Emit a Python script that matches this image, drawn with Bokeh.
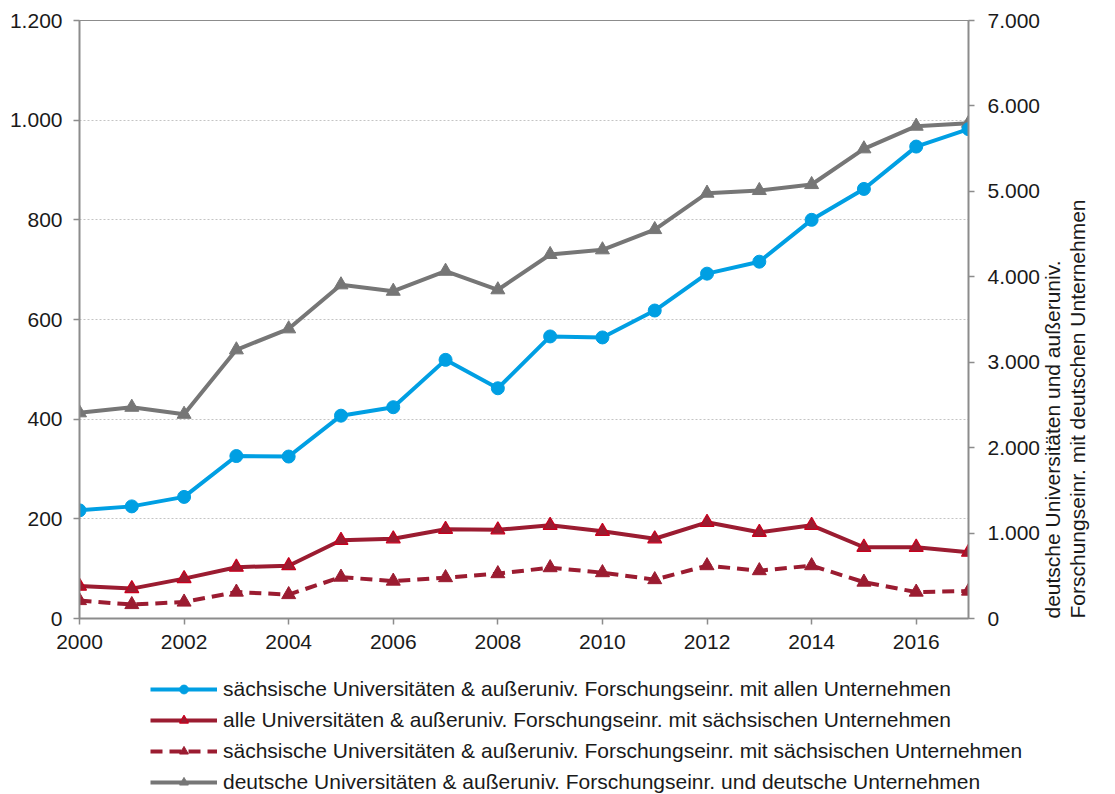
import math
from bokeh.plotting import figure
from bokeh.layouts import column, row
from bokeh.models import (Range1d, LinearAxis, FixedTicker, CustomJSTickFormatter,
                          Legend, LegendItem)
from bokeh.embed import file_html
from bokeh.resources import INLINE

# ---------------- data ----------------
years = list(range(2000, 2018))
saechs_mit_allen = [217, 225, 244, 326, 325, 407, 424, 519, 462, 566, 564, 618, 692, 716, 800, 862, 947, 982]
alle_mit_saechs = [65, 60, 80, 103, 106, 157, 160, 179, 178, 187, 175, 160, 193, 173, 187, 143, 143, 133]
saechs_mit_saechs = [36, 28, 33, 53, 48, 83, 75, 82, 90, 102, 92, 78, 106, 96, 106, 73, 53, 55]
deutsch_mit_deutsch = [2408, 2473, 2391, 3145, 3391, 3906, 3831, 4065, 3848, 4261, 4316, 4553, 4979, 5010, 5080, 5498, 5763, 5798]

x_ticks = [2000, 2002, 2004, 2006, 2008, 2010, 2012, 2014, 2016]
left_ticks = [0, 200, 400, 600, 800, 1000, 1200]
right_ticks = [0, 1000, 2000, 3000, 4000, 5000, 6000, 7000]

series_names = [
    "sächsische Universitäten & außeruniv. Forschungseinr. mit allen Unternehmen",
    "alle Universitäten & außeruniv. Forschungseinr. mit sächsischen Unternehmen",
    "sächsische Universitäten & außeruniv. Forschungseinr. mit sächsischen Unternehmen",
    "deutsche Universitäten & außeruniv. Forschungseinr. und deutsche Unternehmen",
]
right_axis_title = "deutsche Universitäten und außeruniv.\nForschungseinr. mit deutschen Unternehmen"

# ---------------- style ----------------
FONT = "Liberation Sans"
BLUE = "#009fe3"
RED = "#9b1c31"
RED_EDGE = "#c8001e"
GREY = "#767676"
AXIS = "#8c8c8c"
TXT = "#1a1a1a"

sty_blue_line = dict(line_color=BLUE, line_width=4)
sty_blue_pts = dict(marker="circle", size=13, fill_color=BLUE, line_color=BLUE)
sty_red_line = dict(line_color=RED, line_width=4)
sty_red_pts = dict(marker="triangle", size=14, fill_color=RED, line_color=RED_EDGE, line_width=1.2)
sty_dash_line = dict(line_color=RED, line_width=4, line_dash="12 7")
sty_dash_pts = dict(marker="triangle", size=14, fill_color=RED, line_color=RED)
sty_grey_line = dict(line_color=GREY, line_width=4)
sty_grey_pts = dict(marker="triangle", size=14, fill_color=GREY, line_color=GREY)

p = figure(width=1115, height=660, output_backend="svg", toolbar_location=None,
           x_range=Range1d(2000, 2017), y_range=Range1d(0, 1200),
           min_border_left=79, min_border_right=144, min_border_top=20,
           min_border_bottom=42)
p.outline_line_color = AXIS
p.outline_line_width = 1
p.background_fill_color = "white"
p.border_fill_color = "white"

p.extra_y_ranges = {"right": Range1d(0, 7000)}

fmt_code = r"return tick.toFixed(0).replace(/\B(?=(\d{3})+(?!\d))/g, '.');"

ya = p.yaxis[0]
ya.ticker = FixedTicker(ticks=left_ticks)
ya.formatter = CustomJSTickFormatter(code=fmt_code)

xa = p.xaxis[0]
xa.ticker = FixedTicker(ticks=x_ticks)

ra = LinearAxis(y_range_name="right", ticker=FixedTicker(ticks=right_ticks),
                formatter=CustomJSTickFormatter(code=fmt_code))
p.add_layout(ra, "right")

for ax in (xa, ya, ra):
    ax.axis_line_color = AXIS
    ax.axis_line_width = 2
    ax.major_tick_line_color = AXIS
    ax.major_tick_line_width = 1.5
    ax.major_tick_out = 6
    ax.major_tick_in = 0
    ax.minor_tick_line_color = None
    ax.major_label_text_font = FONT
    ax.major_label_text_font_size = "21px"
    ax.major_label_text_color = TXT
ya.major_label_standoff = 11
ra.major_label_standoff = 13
xa.major_label_standoff = 10

ra.axis_label = right_axis_title
ra.axis_label_text_font = FONT
ra.axis_label_text_font_size = "21px"
ra.axis_label_text_font_style = "normal"
ra.axis_label_text_color = TXT
ra.axis_label_standoff = 22
ra.axis_label_text_line_height = 1.05
try:
    ra.axis_label_orientation = math.pi / 2
except Exception:
    pass
try:
    ra.axis_label_align = "start"
except Exception:
    pass

p.xgrid.visible = False
p.ygrid.ticker = FixedTicker(ticks=left_ticks)
p.ygrid.grid_line_color = "#c4c4c4"
p.ygrid.grid_line_dash = "2 2"
p.ygrid.grid_line_width = 1

# ---------------- series ----------------
p.line(years, deutsch_mit_deutsch, y_range_name="right", **sty_grey_line)
p.scatter(years, deutsch_mit_deutsch, y_range_name="right", **sty_grey_pts)
p.line(years, saechs_mit_saechs, **sty_dash_line)
p.scatter(years, saechs_mit_saechs, **sty_dash_pts)
p.line(years, alle_mit_saechs, **sty_red_line)
p.scatter(years, alle_mit_saechs, **sty_red_pts)
p.line(years, saechs_mit_allen, **sty_blue_line)
p.scatter(years, saechs_mit_allen, **sty_blue_pts)

# ---------------- legend (separate strip below) ----------------
lg = figure(width=1115, height=134, output_backend="svg", toolbar_location=None,
            x_range=Range1d(0, 1), y_range=Range1d(0, 1),
            x_axis_location=None, y_axis_location=None,
            min_border_left=0, min_border_right=0, min_border_top=0, min_border_bottom=0)
lg.outline_line_color = None
lg.xgrid.visible = False
lg.ygrid.visible = False

legend_styles = [
    (sty_blue_line, sty_blue_pts),
    (sty_red_line, sty_red_pts),
    (sty_dash_line, sty_dash_pts),
    (sty_grey_line, sty_grey_pts),
]
nan = float("nan")
items = []
for name, (ls, ps) in zip(series_names, legend_styles):
    rl = lg.line(x=[nan, nan], y=[nan, nan], **ls)
    rp = lg.scatter(x=[nan], y=[nan], **ps)
    items.append(LegendItem(label=name, renderers=[rl, rp]))

legend = Legend(items=items, location=(150, 0), orientation="vertical",
                padding=0, spacing=7, margin=0, label_height=22, glyph_height=22,
                glyph_width=67, label_standoff=6, border_line_color=None,
                background_fill_alpha=0, label_text_font=FONT,
                label_text_font_size="21px", label_text_color=TXT)
lg.add_layout(legend)

layout = column(p, row(lg), spacing=0)
open("out.html", "w").write(file_html(layout, INLINE))
